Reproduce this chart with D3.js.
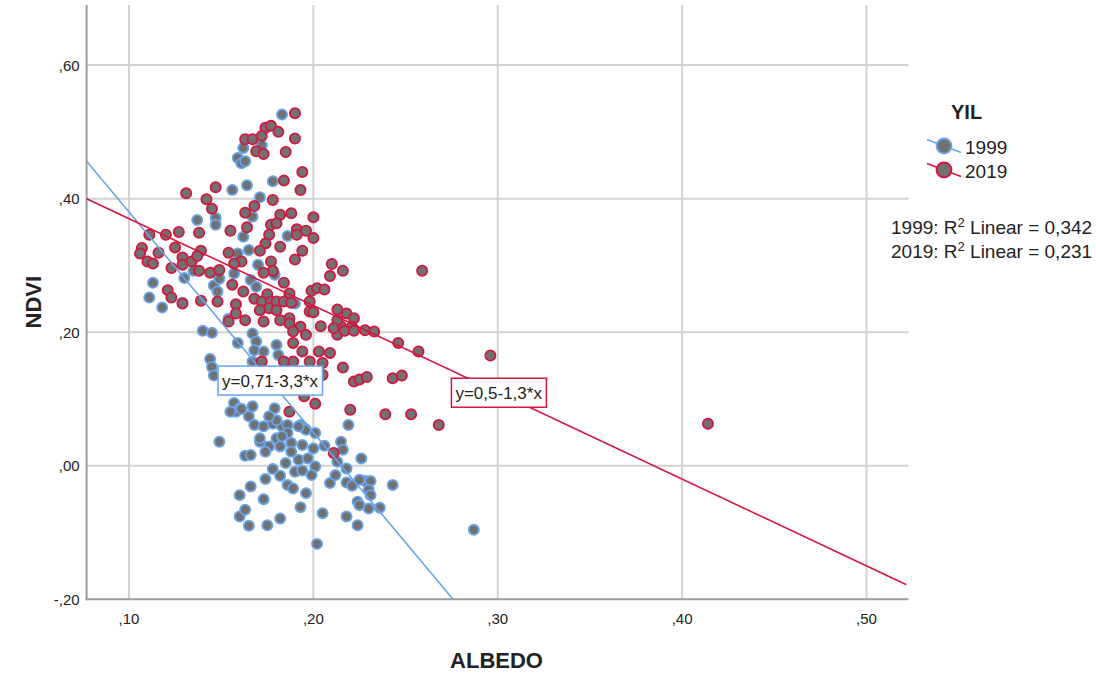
<!DOCTYPE html>
<html>
<head>
<meta charset="utf-8">
<script src="https://cdn.jsdelivr.net/npm/d3@7"></script>
<style>
  body { margin: 0; background: #fff; }
  text { font-family: 'Liberation Sans', Arial, sans-serif; fill: #222; }
</style>
</head>
<body>
<svg id="chart" width="1096" height="675"></svg>
<script>
/* Data */
const years = ['1999', '2019']

const albedo1999 = [
  0.183, 0.162, 0.159, 0.161, 0.163, 0.172, 0.164, 0.156, 0.178, 0.171,
  0.167, 0.137, 0.147, 0.147, 0.162, 0.186, 0.165, 0.170, 0.179, 0.166,
  0.169, 0.190, 0.130, 0.135, 0.146, 0.148, 0.149, 0.157, 0.113, 0.111,
  0.118, 0.129, 0.154, 0.140, 0.145, 0.159, 0.144, 0.145, 0.146, 0.167,
  0.169, 0.168, 0.173, 0.180, 0.181, 0.167, 0.157, 0.160, 0.167, 0.158,
  0.165, 0.168, 0.173, 0.178, 0.183, 0.179, 0.180, 0.186, 0.186, 0.171,
  0.180, 0.183, 0.176, 0.174, 0.182, 0.188, 0.194, 0.200, 0.188, 0.185,
  0.178, 0.192, 0.197, 0.201, 0.190, 0.194, 0.199, 0.186, 0.189, 0.196,
  0.182, 0.193, 0.195, 0.196, 0.201, 0.206, 0.149, 0.163, 0.166, 0.160,
  0.166, 0.174, 0.173, 0.160, 0.165, 0.175, 0.182, 0.193, 0.205, 0.202,
  0.218, 0.224, 0.219, 0.226, 0.215, 0.216, 0.213, 0.218, 0.209, 0.212,
  0.218, 0.221, 0.228, 0.231, 0.243, 0.230, 0.231, 0.224, 0.225, 0.230,
  0.236, 0.287, 0.163, 0.225, 0.159, 0.161, 0.155, 0.171, 0.192, 0.176
]
const ndvi1999 = [
  0.526, 0.476, 0.461, 0.453, 0.456, 0.480, 0.420, 0.413, 0.426, 0.402,
  0.373, 0.368, 0.371, 0.361, 0.343, 0.344, 0.323, 0.301, 0.286, 0.278,
  0.268, 0.243, 0.281, 0.292, 0.270, 0.261, 0.280, 0.288, 0.274, 0.252,
  0.237, 0.244, 0.220, 0.202, 0.199, 0.184, 0.160, 0.148, 0.135, 0.198,
  0.186, 0.173, 0.171, 0.181, 0.166, 0.156, 0.094, 0.086, 0.089, 0.081,
  0.074, 0.061, 0.059, 0.063, 0.059, 0.086, 0.068, 0.061, 0.049, 0.036,
  0.041, 0.044, 0.029, 0.021, 0.029, 0.034, 0.031, 0.026, 0.021, 0.004,
  -0.005, 0.009, 0.011, -0.001, -0.009, -0.007, -0.014, -0.029, -0.034, -0.041,
  -0.015, 0.061, 0.056, 0.054, 0.049, 0.030, 0.036, 0.015, 0.016, -0.044,
  -0.031, -0.020, -0.050, -0.076, -0.090, -0.089, -0.079, -0.062, -0.071, -0.117,
  -0.076, -0.089, 0.061, 0.011, 0.036, 0.024, 0.006, -0.004, -0.026, -0.014,
  -0.025, -0.030, -0.023, -0.023, -0.029, -0.036, -0.044, -0.054, -0.059, -0.064,
  -0.063, -0.096, -0.066, -0.021, 0.318, 0.085, 0.081, 0.041, 0.059, 0.074
]

const albedo2019 = [
  0.190, 0.174, 0.177, 0.181, 0.163, 0.167, 0.172, 0.190, 0.169, 0.173,
  0.185, 0.194, 0.184, 0.193, 0.178, 0.168, 0.163, 0.188, 0.182, 0.200,
  0.177, 0.180, 0.164, 0.191, 0.196, 0.191, 0.200, 0.176, 0.174, 0.182,
  0.171, 0.194, 0.190, 0.177, 0.161, 0.178, 0.173, 0.210, 0.216, 0.209,
  0.184, 0.187, 0.199, 0.202, 0.206, 0.168, 0.175, 0.172, 0.177, 0.180,
  0.184, 0.188, 0.198, 0.198, 0.200, 0.176, 0.180, 0.171, 0.187, 0.182,
  0.213, 0.218, 0.222, 0.163, 0.173, 0.131, 0.147, 0.142, 0.145, 0.155,
  0.138, 0.127, 0.120, 0.111, 0.107, 0.106, 0.116, 0.110, 0.113, 0.125,
  0.129, 0.129, 0.134, 0.139, 0.137, 0.138, 0.144, 0.149, 0.154, 0.157,
  0.123, 0.121, 0.123, 0.139, 0.148, 0.156, 0.158, 0.158, 0.129, 0.162,
  0.187, 0.193, 0.189, 0.196, 0.204, 0.213, 0.215, 0.221, 0.228, 0.233,
  0.194, 0.203, 0.209, 0.189, 0.184, 0.172, 0.198, 0.205, 0.216, 0.222,
  0.225, 0.229, 0.201, 0.195, 0.187, 0.220, 0.211, 0.239, 0.253, 0.259,
  0.296, 0.246, 0.257, 0.243, 0.248, 0.268, 0.414, 0.213, 0.211, 0.217,
  0.222, 0.189, 0.205, 0.195, 0.154
]
const ndvi2019 = [
  0.528, 0.506, 0.509, 0.500, 0.489, 0.489, 0.494, 0.490, 0.471, 0.467,
  0.470, 0.440, 0.427, 0.413, 0.398, 0.389, 0.379, 0.378, 0.376, 0.372,
  0.361, 0.363, 0.357, 0.354, 0.352, 0.346, 0.341, 0.346, 0.333, 0.328,
  0.322, 0.322, 0.309, 0.306, 0.306, 0.292, 0.289, 0.302, 0.292, 0.284,
  0.274, 0.258, 0.262, 0.266, 0.264, 0.250, 0.257, 0.246, 0.246, 0.246,
  0.246, 0.244, 0.246, 0.231, 0.230, 0.236, 0.233, 0.233, 0.221, 0.218,
  0.234, 0.228, 0.221, 0.218, 0.216, 0.408, 0.417, 0.399, 0.385, 0.352,
  0.349, 0.350, 0.346, 0.346, 0.326, 0.318, 0.319, 0.306, 0.303, 0.327,
  0.312, 0.301, 0.306, 0.322, 0.314, 0.292, 0.289, 0.293, 0.319, 0.303,
  0.296, 0.263, 0.252, 0.247, 0.246, 0.271, 0.242, 0.228, 0.243, 0.261,
  0.213, 0.208, 0.201, 0.196, 0.209, 0.196, 0.209, 0.208, 0.203, 0.201,
  0.171, 0.171, 0.169, 0.156, 0.156, 0.156, 0.156, 0.136, 0.147, 0.126,
  0.129, 0.133, 0.093, 0.104, 0.081, 0.084, 0.019, 0.077, 0.077, 0.292,
  0.165, 0.184, 0.171, 0.131, 0.135, 0.061, 0.063, 0.218, 0.206, 0.202,
  0.202, 0.184, 0.154, 0.114, 0.216
]

/* Fit lines as printed on the chart */
const fitIntercept = [0.71, 0.5]
const fitSlope = [-3.3, -1.3]
const fitLabels = ['y=0,71-3,3*x', 'y=0,5-1,3*x']
const fitLabelAt = [0.1765, 0.3005]
const r2Labels = ['0,342', '0,231']

const xTicks = [0.1, 0.2, 0.3, 0.4, 0.5]
const xTickLabels = [',10', ',20', ',30', ',40', ',50']
const yTicks = [-0.2, 0, 0.2, 0.4, 0.6]
const yTickLabels = ['-,20', ',00', ',20', ',40', ',60']

/* Layout */
const width = 1096
const height = 675
const margin = { top: 5, right: 189.5, bottom: 75.7, left: 86.6 }
const colors = ['#68a5ea', '#d3173f']
const fillGray = '#717171'

const svg = d3.select('#chart')

const xScale = d3
  .scaleLinear()
  .domain([0.077, 0.5217])
  .range([margin.left, width - margin.right])

const yScale = d3
  .scaleLinear()
  .domain([-0.2, 0.69])
  .range([height - margin.bottom, margin.top])

const x0 = margin.left
const x1 = width - margin.right
const y0 = height - margin.bottom
const y1 = margin.top

svg
  .append('defs')
  .append('clipPath')
  .attr('id', 'plot-clip')
  .append('rect')
  .attr('x', x0)
  .attr('y', y1)
  .attr('width', x1 - x0)
  .attr('height', y0 - y1)

/* Grid */
svg
  .append('g')
  .selectAll('line')
  .data(xTicks)
  .join('line')
  .attr('x1', (d) => xScale(d))
  .attr('x2', (d) => xScale(d))
  .attr('y1', y1)
  .attr('y2', y0)
  .attr('stroke', '#d2d2d2')
  .attr('stroke-width', 2)

svg
  .append('g')
  .selectAll('line')
  .data(yTicks.slice(1))
  .join('line')
  .attr('x1', x0)
  .attr('x2', x1 + 2)
  .attr('y1', (d) => yScale(d))
  .attr('y2', (d) => yScale(d))
  .attr('stroke', '#d2d2d2')
  .attr('stroke-width', 2)

/* Axis lines */
svg
  .append('line')
  .attr('x1', x0)
  .attr('x2', x0)
  .attr('y1', y1)
  .attr('y2', y0 + 1)
  .attr('stroke', '#9c9c9c')
  .attr('stroke-width', 2)

svg
  .append('line')
  .attr('x1', x0 - 1)
  .attr('x2', x1 + 2)
  .attr('y1', y0)
  .attr('y2', y0)
  .attr('stroke', '#9c9c9c')
  .attr('stroke-width', 2)

/* Tick labels */
svg
  .append('g')
  .selectAll('text')
  .data(xTicks)
  .join('text')
  .attr('x', (d) => xScale(d))
  .attr('y', y0 + 25)
  .attr('text-anchor', 'middle')
  .attr('font-size', 15)
  .text((d, i) => xTickLabels[i])

svg
  .append('g')
  .selectAll('text')
  .data(yTicks)
  .join('text')
  .attr('x', x0 - 7)
  .attr('y', (d) => yScale(d) + 5.5)
  .attr('text-anchor', 'end')
  .attr('font-size', 15)
  .text((d, i) => yTickLabels[i])

/* Axis titles */
svg
  .append('text')
  .attr('x', (x0 + x1) / 2)
  .attr('y', 668)
  .attr('text-anchor', 'middle')
  .attr('font-size', 22)
  .attr('font-weight', 'bold')
  .text('ALBEDO')

svg
  .append('text')
  .attr('transform', `translate(41, ${(y0 + y1) / 2}) rotate(-90)`)
  .attr('text-anchor', 'middle')
  .attr('font-size', 22)
  .attr('font-weight', 'bold')
  .text('NDVI')

/* Points */
const series = [
  { albedo: albedo1999, ndvi: ndvi1999 },
  { albedo: albedo2019, ndvi: ndvi2019 },
]

series.forEach((s, k) => {
  svg
    .append('g')
    .selectAll('circle')
    .data(s.albedo)
    .join('circle')
    .attr('cx', (d) => xScale(d))
    .attr('cy', (d, i) => yScale(s.ndvi[i]))
    .attr('r', 5.1)
    .attr('fill', fillGray)
    .attr('stroke', colors[k])
    .attr('stroke-width', 1.8)
})

/* Fit lines */
const clipped = svg.append('g').attr('clip-path', 'url(#plot-clip)')
const xDomain = xScale.domain()

fitIntercept.forEach((b, k) => {
  clipped
    .append('path')
    .datum(xDomain)
    .attr('fill', 'none')
    .attr('stroke', colors[k])
    .attr('stroke-width', 1.6)
    .attr(
      'd',
      d3
        .line()
        .x((d) => xScale(d))
        .y((d) => yScale(b + fitSlope[k] * d))
    )
})

/* Fit labels */
fitLabels.forEach((label, k) => {
  const lx = xScale(fitLabelAt[k])
  const ly = yScale(fitIntercept[k] + fitSlope[k] * fitLabelAt[k])
  const g = svg.append('g')
  const rect = g.append('rect')
  const t = g
    .append('text')
    .attr('x', lx)
    .attr('y', ly + 6)
    .attr('text-anchor', 'middle')
    .attr('font-size', 17)
    .text(label)
  const bb = t.node().getBBox()
  rect
    .attr('x', bb.x - 4)
    .attr('y', ly - 14.5)
    .attr('width', bb.width + 8)
    .attr('height', 29)
    .attr('fill', '#fff')
    .attr('stroke', colors[k])
    .attr('stroke-width', 1.5)
})

/* Legend */
svg
  .append('text')
  .attr('x', 951)
  .attr('y', 119)
  .attr('font-size', 20)
  .attr('font-weight', 'bold')
  .text('YIL')

years.forEach((yr, k) => {
  const cy = 146 + k * 24
  const cx = 944
  svg
    .append('line')
    .attr('x1', cx - 17)
    .attr('y1', cy - 6.5)
    .attr('x2', cx + 17)
    .attr('y2', cy + 6.5)
    .attr('stroke', colors[k])
    .attr('stroke-width', 1.6)
  svg
    .append('circle')
    .attr('cx', cx)
    .attr('cy', cy)
    .attr('r', 7.4)
    .attr('fill', fillGray)
    .attr('stroke', colors[k])
    .attr('stroke-width', 2)
  svg
    .append('text')
    .attr('x', 965)
    .attr('y', cy + 8)
    .attr('font-size', 19)
    .text(yr)
})

/* R squared notes */
years.forEach((yr, k) => {
  const t = svg
    .append('text')
    .attr('x', 891)
    .attr('y', 234 + k * 24)
    .attr('font-size', 19)
  t.append('tspan').text(`${yr}: R`)
  t.append('tspan').attr('font-size', 13).attr('dy', -7).text('2')
  t.append('tspan').attr('dy', 7).text(` Linear = ${r2Labels[k]}`)
})
</script>
</body>
</html>
